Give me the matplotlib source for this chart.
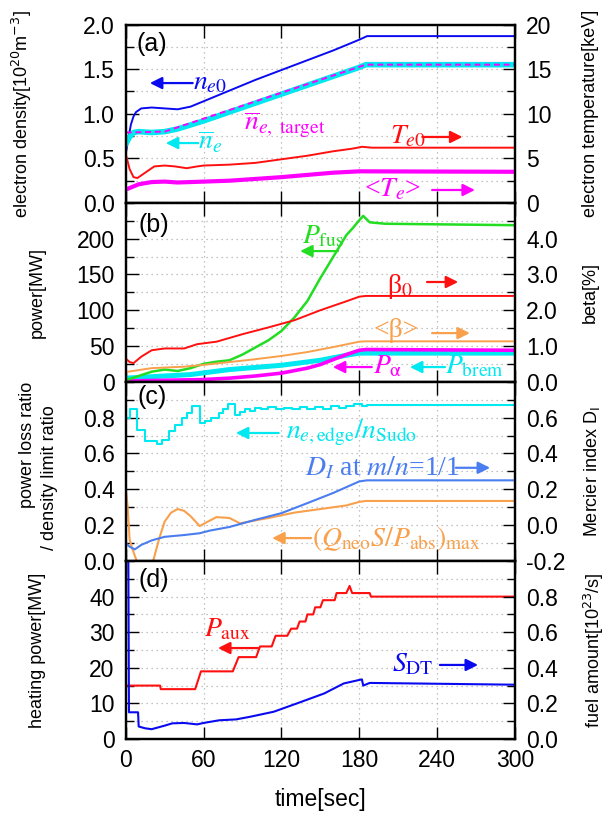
import numpy as np
import matplotlib
matplotlib.use("Agg")
import matplotlib.pyplot as plt
from matplotlib.ticker import MultipleLocator, FixedLocator

plt.rcParams['font.family'] = ['Liberation Sans', 'DejaVu Sans']
plt.rcParams['axes.linewidth'] = 1.6

# colours
BLUE = '#0a0af0'
CYAN = '#00e8f0'
MAGENTA = '#ff00ff'
RED = '#ff1010'
GREEN = '#22dd22'
ORANGE = '#f9a04c'
ROYAL = '#4a7df0'

# ---- panel (a) : density / temperature ----
t_ne0 = [0, 2, 4, 6, 8, 12, 20, 30, 40, 50, 60, 70, 80, 100, 120, 140, 160, 180, 186, 300]
ne0 = [0.55, 0.72, 0.88, 0.97, 1.02, 1.06, 1.07, 1.06, 1.05, 1.08, 1.14, 1.20, 1.26, 1.38, 1.49, 1.60, 1.71, 1.83, 1.87, 1.87]

t_nebar = [0, 3, 6, 10, 20, 30, 40, 60, 80, 100, 120, 140, 160, 180, 185, 300]
nebar = [0.66, 0.74, 0.79, 0.80, 0.79, 0.80, 0.83, 0.92, 1.02, 1.12, 1.22, 1.32, 1.42, 1.52, 1.55, 1.55]

t_target = [0, 30, 185, 300]
ne_target = [0.79, 0.80, 1.55, 1.55]

t_te0 = [0, 3, 6, 9, 14, 22, 30, 38, 47, 55, 60, 80, 100, 120, 140, 160, 175, 182, 190, 300]
te0 = [5.5, 3.8, 2.9, 2.8, 3.3, 4.1, 4.2, 4.1, 3.9, 4.1, 4.2, 4.3, 4.5, 4.9, 5.3, 5.8, 6.1, 6.3, 6.2, 6.2]

t_teav = [0, 5, 10, 20, 30, 40, 60, 80, 100, 120, 140, 160, 180, 300]
teav = [1.5, 1.8, 2.1, 2.35, 2.4, 2.3, 2.4, 2.5, 2.7, 2.9, 3.15, 3.4, 3.55, 3.5]

# ---- panel (b) : power / beta ----
t_pfus = [0, 5, 10, 20, 30, 40, 50, 60, 70, 80, 90, 100, 110, 120, 130, 140, 150, 160, 170, 175, 180, 183, 188, 200, 250, 300]
pfus = [2, 5, 8, 14, 17, 15, 19, 25, 28, 30, 38, 48, 58, 71, 90, 113, 145, 175, 205, 215, 226, 232, 223, 221, 220, 219]

t_beta0 = [0, 3, 6, 12, 20, 30, 45, 55, 70, 90, 110, 130, 150, 170, 180, 185, 300]
beta0 = [0.65, 0.55, 0.52, 0.70, 0.88, 0.93, 0.93, 1.05, 1.12, 1.33, 1.52, 1.72, 2.0, 2.25, 2.38, 2.4, 2.4]

t_betaav = [0, 20, 45, 60, 80, 100, 120, 140, 160, 180, 185, 300]
betaav = [0.27, 0.38, 0.42, 0.47, 0.55, 0.63, 0.72, 0.83, 0.97, 1.12, 1.13, 1.13]

t_pbrem = [0, 10, 20, 50, 80, 100, 120, 150, 170, 180, 300]
pbrem = [5, 6, 7, 10, 17, 20, 23, 30, 37, 40, 40]

t_palpha = [0, 30, 60, 80, 100, 120, 140, 150, 160, 170, 180, 185, 300]
palpha = [1, 2, 3, 5, 8, 12, 19, 24, 31, 38, 44, 45, 44]

# ---- panel (c) : ratios / Mercier ----
t_edge = [0.5, 3, 8.5, 15, 24, 28, 33, 38, 43, 47, 51, 57, 61, 66, 72, 75, 79, 84, 88, 92, 96, 100, 104,
          110, 116, 122, 128, 134, 140, 146, 152, 158, 164, 170, 176, 182, 186, 300]
edge = [0.80, 0.845, 0.733, 0.668, 0.655, 0.677, 0.724, 0.761, 0.80, 0.827, 0.864, 0.767, 0.78, 0.80, 0.827,
        0.85, 0.873, 0.817, 0.83, 0.85, 0.836, 0.856, 0.845, 0.86, 0.848, 0.855, 0.845, 0.858, 0.85, 0.86,
        0.85, 0.862, 0.855, 0.865, 0.873, 0.862, 0.868, 0.868]

t_qneo = [0, 1.5, 3, 5, 8, 10, 14, 20, 23, 26, 30, 35, 40, 45, 50, 57, 62, 70, 80, 88, 95, 110, 130, 150, 170, 180, 185, 300]
qneo = [0.41, 0.30, 0.12, 0.07, 0.01, -0.03, -0.06, -0.03, 0.05, 0.13, 0.22, 0.27, 0.29, 0.28, 0.25, 0.195,
        0.215, 0.245, 0.24, 0.21, 0.22, 0.24, 0.27, 0.29, 0.31, 0.33, 0.335, 0.335]

t_di = [0, 3, 7, 12, 20, 30, 45, 57, 65, 80, 100, 120, 140, 160, 180, 186, 300]
di = [-0.10, -0.12, -0.135, -0.11, -0.085, -0.065, -0.055, -0.045, -0.03, -0.01, 0.03, 0.067, 0.123, 0.18, 0.244, 0.25, 0.25]

# ---- panel (d) : heating / fuelling ----
t_aux = [1.5, 26.5, 27, 53.5, 58, 82.5, 87, 100.5, 103.5, 112.5, 115.5, 124.5, 127.5, 132, 134, 138.5, 140,
         144.5, 146, 150, 152, 161, 162.5, 170, 172.5, 174.5, 188, 189, 300]
paux = [15, 15, 14, 14, 19, 19, 23, 23, 26, 26, 29, 29, 31, 31, 33, 33, 35, 35, 37, 37, 39, 39, 41, 41, 43, 41, 41, 40, 40]

t_sdt = [2, 2.5, 9.5, 10, 15, 20, 25, 30, 36, 45, 55, 60, 72, 85, 96, 114, 132, 153, 168, 182, 183, 188, 300]
sdt = [1.05, 0.15, 0.15, 0.07, 0.06, 0.055, 0.065, 0.075, 0.088, 0.09, 0.082, 0.09, 0.105, 0.11, 0.125, 0.153,
       0.2, 0.256, 0.312, 0.335, 0.30, 0.315, 0.305]

x_ticks = [0, 60, 120, 180, 240, 300]

fig = plt.figure(figsize=(6.05, 8.17), dpi=100)
left, width = 0.2078, 0.6435
bottoms = [0.7515, 0.5328, 0.3133, 0.0955]
heights = [0.2185, 0.2187, 0.2195, 0.2178]

TICK_FS = 16.5
LAB_FS = 13
ANN_FS = 20


def style(ax, tw, lmaj, lmin, lticks, rmaj, rmin, rticks, ylim, rlim, last):
    ax.set_xlim(0, 300)
    ax.set_ylim(*ylim)
    tw.set_ylim(*rlim)
    ax.xaxis.set_major_locator(FixedLocator(x_ticks))
    ax.yaxis.set_major_locator(FixedLocator(lticks))
    ax.yaxis.set_minor_locator(MultipleLocator(lmin))
    tw.yaxis.set_major_locator(FixedLocator(rticks))
    tw.yaxis.set_minor_locator(MultipleLocator(rmin))
    ax.tick_params(which='major', direction='in', length=9, width=1.0, top=True, right=False,
                   labelsize=TICK_FS, pad=8, labelbottom=last)
    ax.tick_params(which='minor', direction='in', length=6, width=1.0, right=False)
    ax.tick_params(axis='x', pad=7)
    tw.tick_params(which='major', direction='in', length=9, width=1.0, labelsize=TICK_FS, pad=8)
    tw.tick_params(which='minor', direction='in', length=6, width=1.0)
    ax.grid(True, which='both', axis='y', ls=(0, (1, 3)), color='#b0b0b0', lw=0.9)
    ax.grid(True, which='major', axis='x', ls=(0, (1, 3)), color='#b0b0b0', lw=0.9)
    ax.set_axisbelow(True)


def arrow(ax, x0, x1, y, color):
    ax.annotate('', xy=(x1, y), xytext=(x0, y), xycoords='axes fraction',
                arrowprops=dict(arrowstyle='-|>', color=color, lw=1.6, mutation_scale=18,
                                shrinkA=0, shrinkB=0))


def label(ax, x, y, s, color, ha='left', size=ANN_FS):
    ax.text(x, y, s, color=color, transform=ax.transAxes, ha=ha, va='center', fontsize=size,
            family=['Liberation Serif', 'DejaVu Serif'], math_fontfamily='stix')


axes = []
for b, h in zip(bottoms, heights):
    a = fig.add_axes([left, b, width, h])
    axes.append((a, a.twinx()))

RX = 1.172

# (a)
ax, tw = axes[0]
style(ax, tw, 0.5, 0.25, [0, 0.5, 1.0, 1.5, 2.0], 5, 2.5, [0, 5, 10, 15, 20], (0, 2.0), (0, 20), False)
ax.yaxis.set_major_formatter(plt.FormatStrFormatter('%.1f'))
ax.plot(t_ne0, ne0, color=BLUE, lw=1.4)
ax.plot(t_nebar, nebar, color=CYAN, lw=4.0)
ax.plot(t_target, ne_target, color=MAGENTA, lw=1.4, ls=(0, (3, 2)))
tw.plot(t_te0, te0, color=RED, lw=1.4)
tw.plot(t_teav, teav, color=MAGENTA, lw=3.0)
ax.set_ylabel(r'electron density[10$^{20}$m$^{-3}$]', fontsize=LAB_FS)
ax.yaxis.set_label_coords(-0.235, 0.5)
tw.set_ylabel('electron temperature[keV]', fontsize=LAB_FS)
tw.yaxis.set_label_coords(RX, 0.5)
ax.text(0.068, 0.893, '(a)', transform=ax.transAxes, ha='center', va='center', fontsize=TICK_FS + 1.5)
arrow(ax, 0.172, 0.062, 0.672, BLUE)
label(ax, 0.172, 0.672, r'$n_{e0}$', BLUE)
arrow(ax, 0.186, 0.103, 0.336, CYAN)
label(ax, 0.186, 0.342, r'$\overline{n}_e$', CYAN)
label(ax, 0.305, 0.44, r'$\overline{n}_{e,\ \mathrm{target}}$', MAGENTA)
label(ax, 0.678, 0.37, r'$T_{e0}$', RED)
arrow(ax, 0.762, 0.865, 0.37, RED)
label(ax, 0.612, 0.073, r'<$T_e$>', MAGENTA)
arrow(ax, 0.787, 0.897, 0.073, MAGENTA)

# (b)
ax, tw = axes[1]
style(ax, tw, 50, 25, [0, 50, 100, 150, 200], 1.0, 0.5, [0, 1, 2, 3, 4], (0, 250), (0, 5.0), False)
tw.yaxis.set_major_formatter(plt.FormatStrFormatter('%.1f'))
ax.plot(t_pbrem, pbrem, color=CYAN, lw=3.6)
ax.plot(t_palpha, palpha, color=MAGENTA, lw=2.6)
ax.plot(t_pfus, pfus, color=GREEN, lw=1.8)
tw.plot(t_beta0, beta0, color=RED, lw=1.4)
tw.plot(t_betaav, betaav, color=ORANGE, lw=1.4)
ax.set_ylabel('power[MW]', fontsize=LAB_FS)
ax.yaxis.set_label_coords(-0.205, 0.5)
tw.set_ylabel('beta[%]', fontsize=LAB_FS)
tw.yaxis.set_label_coords(RX, 0.5)
ax.text(0.073, 0.877, '(b)', transform=ax.transAxes, ha='center', va='center', fontsize=TICK_FS + 1.5)
label(ax, 0.506, 0.81, r'$P_{\mathrm{fus}}$', GREEN, ha='center')
arrow(ax, 0.545, 0.448, 0.731, GREEN)
label(ax, 0.705, 0.535, r'β$_0$', RED, ha='center')
arrow(ax, 0.774, 0.854, 0.558, RED)
label(ax, 0.695, 0.285, '<β>', ORANGE, ha='center')
arrow(ax, 0.787, 0.884, 0.272, ORANGE)
arrow(ax, 0.632, 0.532, 0.082, MAGENTA)
label(ax, 0.635, 0.082, r'$P_{\mathrm{\alpha}}$', MAGENTA)
arrow(ax, 0.82, 0.73, 0.082, CYAN)
label(ax, 0.82, 0.082, r'$P_{\mathrm{brem}}$', CYAN)

# (c)
ax, tw = axes[2]
style(ax, tw, 0.2, 0.1, [0, 0.2, 0.4, 0.6, 0.8], 0.2, 0.1, [-0.2, 0, 0.2, 0.4, 0.6], (0, 1.0), (-0.2, 0.8), False)
ax.yaxis.set_major_formatter(plt.FormatStrFormatter('%.1f'))
tw.yaxis.set_major_formatter(plt.FormatStrFormatter('%.1f'))
ax.plot(t_edge, edge, color=CYAN, lw=1.5, drawstyle='steps-post')
ax.plot(t_qneo, qneo, color=ORANGE, lw=1.5)
tw.plot(t_di, di, color=ROYAL, lw=1.5)
ax.text(-0.253, 0.647, 'power loss ratio', transform=ax.transAxes, rotation=90, ha='center', va='center',
        fontsize=LAB_FS)
ax.text(-0.195, 0.463, '/ density limit ratio', transform=ax.transAxes, rotation=90, ha='center', va='center',
        fontsize=LAB_FS)
tw.set_ylabel(r'Mercier index D$_\mathrm{I}$', fontsize=LAB_FS)
tw.yaxis.set_label_coords(RX, 0.5)
ax.text(0.068, 0.912, '(c)', transform=ax.transAxes, ha='center', va='center', fontsize=TICK_FS + 1.5)
arrow(ax, 0.393, 0.283, 0.714, CYAN)
label(ax, 0.412, 0.714, r'$n_{e,\mathrm{edge}}/n_{\mathrm{Sudo}}$', CYAN)
label(ax, 0.46, 0.52, r'$D_I$ at $m/n$=1/1', ROYAL)
arrow(ax, 0.848, 0.936, 0.52, ROYAL)
arrow(ax, 0.476, 0.376, 0.128, ORANGE)
label(ax, 0.478, 0.128, r'$(Q_{\mathrm{neo}}S/P_{\mathrm{abs}})_{\mathrm{max}}$', ORANGE)

# (d)
ax, tw = axes[3]
style(ax, tw, 10, 5, [0, 10, 20, 30, 40], 0.2, 0.1, [0, 0.2, 0.4, 0.6, 0.8], (0, 50), (0, 1.0), True)
tw.yaxis.set_major_formatter(plt.FormatStrFormatter('%.1f'))
ax.plot(t_aux, paux, color=RED, lw=1.5)
tw.plot(t_sdt, sdt, color=BLUE, lw=1.5)
ax.set_ylabel('heating power[MW]', fontsize=LAB_FS)
ax.yaxis.set_label_coords(-0.205, 0.5)
tw.set_ylabel(r'fuel amount[10$^{23}$/s]', fontsize=LAB_FS)
tw.yaxis.set_label_coords(RX, 0.5)
ax.set_xlabel('time[sec]', fontsize=TICK_FS, labelpad=12)
ax.text(0.073, 0.893, '(d)', transform=ax.transAxes, ha='center', va='center', fontsize=TICK_FS + 1.5)
label(ax, 0.26, 0.612, r'$P_{\mathrm{aux}}$', RED, ha='center')
arrow(ax, 0.34, 0.237, 0.511, RED)
label(ax, 0.736, 0.416, r'$S_{\mathrm{DT}}$', BLUE, ha='center')
arrow(ax, 0.807, 0.905, 0.416, BLUE)

fig.savefig('out.png', dpi=100)
